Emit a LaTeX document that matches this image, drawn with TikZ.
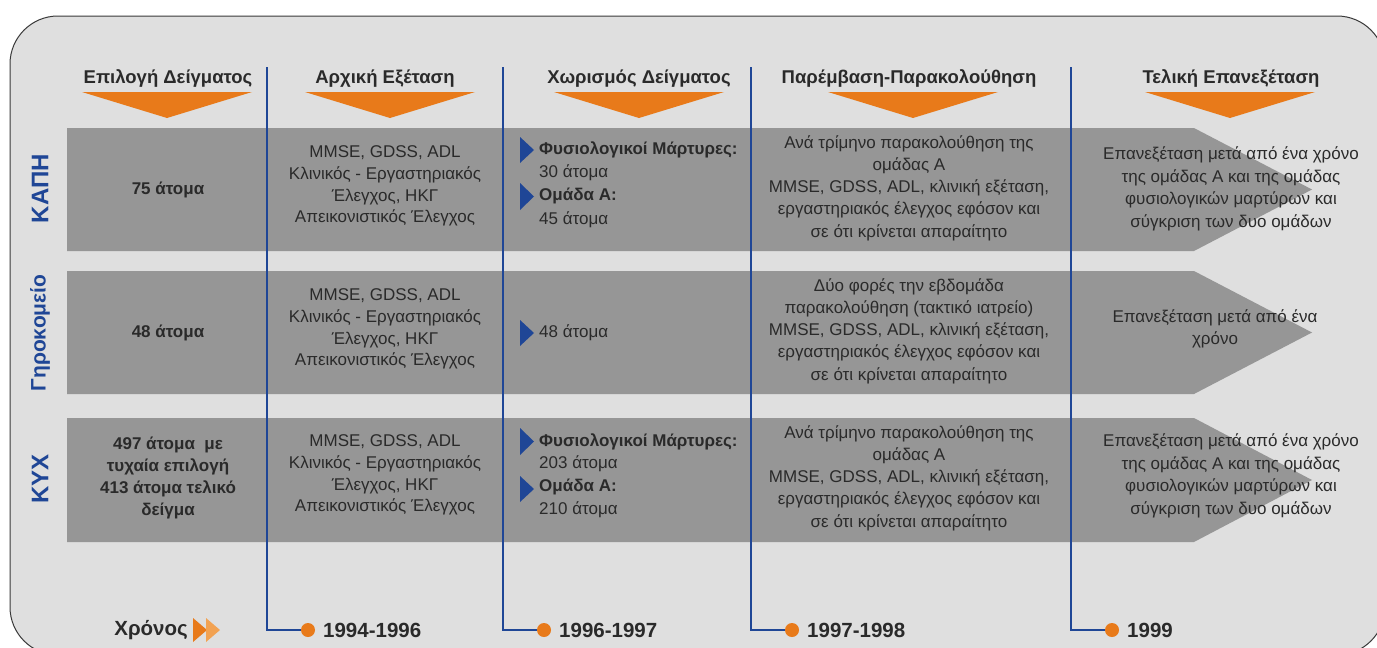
\documentclass[tikz,border=0pt]{standalone}
\usepackage{fontspec}
\setmainfont{Liberation Sans}
\definecolor{bgc}{HTML}{DFDFDF}
\definecolor{bandc}{HTML}{969696}
\definecolor{orangec}{HTML}{E87A1A}
\definecolor{orangel}{HTML}{F2A252}
\definecolor{bluec}{HTML}{1F4696}
\definecolor{txt}{HTML}{2A2A2A}
\definecolor{framec}{HTML}{3A3A3A}
\begin{document}
\begin{tikzpicture}[x=1pt,y=-1pt,
  hdr/.style={font=\fontsize{18.5}{22}\selectfont\bfseries, text=txt, anchor=base, inner sep=0pt},
  body/.style={font=\fontsize{17}{22.3}\selectfont, text=txt, align=center, inner sep=0pt},
  bbody/.style={font=\fontsize{17}{21.7}\selectfont\bfseries, text=txt, align=center, inner sep=0pt},
  lft/.style={font=\fontsize{17}{21}\selectfont, text=txt, anchor=west, inner sep=0pt},
  blft/.style={font=\fontsize{17}{21}\selectfont\bfseries, text=txt, anchor=west, inner sep=0pt},
  rowlab/.style={font=\fontsize{24}{26}\selectfont\bfseries, text=bluec, rotate=90, inner sep=0pt},
  year/.style={font=\fontsize{20.5}{24}\selectfont\bfseries, text=txt, anchor=west, inner sep=0pt},
  dot/.style={circle, fill=orangec, minimum size=14pt, inner sep=0pt},
  vline/.style={draw=bluec, line width=2pt},
  band/.style={fill=bandc},
  tri/.style={fill=orangec},
  bmark/.style={fill=bluec}
]
\useasboundingbox (0,0) rectangle (1377,648);
\clip (0,0) rectangle (1377,648);
\fill[white] (0,0) rectangle (1377,648);
\draw[draw=framec, fill=bgc, line width=1pt, rounded corners=48pt] (10,16) rectangle (1385,655);

% bands
\fill[band] (67,128) -- (1194,128) -- (1312,189.5) -- (1194,251) -- (67,251) -- cycle;
\fill[band] (67,271) -- (1194,271) -- (1312,332.5) -- (1194,394) -- (67,394) -- cycle;
\fill[band] (67,418) -- (1194,418) -- (1312,480) -- (1194,542) -- (67,542) -- cycle;

% orange header triangles
\foreach \cx in {167,390,639,913,1230}{
  \fill[tri] (\cx-85,92) -- (\cx+85,92) -- (\cx,118) -- cycle;
}

% headers
\node[hdr] (h1) at (168,83) {Επιλογή Δείγματος};
\node[hdr] (h2) at (385,83) {Αρχική Εξέταση};
\node[hdr] (h3) at (639,83) {Χωρισμός Δείγματος};
\node[hdr] (h4) at (909,83) {Παρέμβαση-Παρακολούθηση};
\node[hdr] (h5) at (1231,83) {Τελική Επανεξέταση};

% timeline
\coordinate (t1) at (267,67);
\coordinate (t2) at (503,67);
\coordinate (t3) at (751,67);
\coordinate (t4) at (1071,67);
\node[dot] (d1) at (308,630) {};
\node[dot] (d2) at (544,630) {};
\node[dot] (d3) at (792,630) {};
\node[dot] (d4) at (1112,630) {};
\draw[vline] (t1) |- (d1);
\draw[vline] (t2) |- (d2);
\draw[vline] (t3) |- (d3);
\draw[vline] (t4) |- (d4);
\node[year] (y1) at (323,630) {1994-1996};
\node[year] (y2) at (559,630) {1996-1997};
\node[year] (y3) at (807,630) {1997-1998};
\node[year] (y4) at (1127,630) {1999};
\node[year, anchor=east] (xr) at (188,630) {Χρόνος};
\fill[fill=orangec] (193,618) -- (207,630) -- (193,642) -- cycle;
\fill[fill=orangel] (206,618) -- (220,630) -- (206,642) -- cycle;

% row labels
\node[rowlab] (r1) at (40,188.5) {ΚΑΠΗ};
\node[rowlab, font=\fontsize{21}{24}\selectfont\bfseries] (r2) at (40,333) {Γηροκομείο};
\node[rowlab] (r3) at (40,479) {ΚΥΧ};

% column 1
\node[bbody] (c11) at (168,190) {75 άτομα};
\node[bbody] (c21) at (168,333) {48 άτομα};
\node[bbody] (c31) at (168,478) {497 άτομα\ \ με\\τυχαία επιλογή\\413 άτομα τελικό\\δείγμα};

% column 2
\node[body, font=\fontsize{17}{21.7}\selectfont] (c12) at (385,186) {MMSE, GDSS, ADL\\Κλινικός - Εργαστηριακός\\Έλεγχος, ΗΚΓ\\Απεικονιστικός Έλεγχος};
\node[body, font=\fontsize{17}{21.7}\selectfont] (c22) at (385,329) {MMSE, GDSS, ADL\\Κλινικός - Εργαστηριακός\\Έλεγχος, ΗΚΓ\\Απεικονιστικός Έλεγχος};
\node[body, font=\fontsize{17}{21.7}\selectfont] (c32) at (385,475) {MMSE, GDSS, ADL\\Κλινικός - Εργαστηριακός\\Έλεγχος, ΗΚΓ\\Απεικονιστικός Έλεγχος};

% column 3
\fill[bmark] (520,137) -- (534,150) -- (520,163) -- cycle;
\fill[bmark] (520,183) -- (534,196.5) -- (520,210) -- cycle;
\node[blft] (c13a) at (539,150) {Φυσιολογικοί Μάρτυρες:};
\node[lft] (c13b) at (539,173) {30 άτομα};
\node[blft] (c13c) at (539,196) {Ομάδα Α:};
\node[lft] (c13d) at (539,220) {45 άτομα};

\fill[bmark] (520,320) -- (534,333) -- (520,346) -- cycle;
\node[lft] (c23) at (539,333) {48 άτομα};

\fill[bmark] (520,428) -- (534,441.5) -- (520,455) -- cycle;
\fill[bmark] (520,476) -- (534,489) -- (520,502) -- cycle;
\node[blft] (c33a) at (539,442) {Φυσιολογικοί Μάρτυρες:};
\node[lft] (c33b) at (539,464) {203 άτομα};
\node[blft] (c33c) at (539,487) {Ομάδα Α:};
\node[lft] (c33d) at (539,510) {210 άτομα};

% column 4
\node[body] (c14) at (909,188) {Ανά τρίμηνο παρακολούθηση της\\ομάδας Α\\MMSE, GDSS, ADL, κλινική εξέταση,\\εργαστηριακός έλεγχος εφόσον και\\σε ότι κρίνεται απαραίτητο};
\node[body] (c24) at (909,331) {Δύο φορές την εβδομάδα\\παρακολούθηση (τακτικό ιατρείο)\\MMSE, GDSS, ADL, κλινική εξέταση,\\εργαστηριακός έλεγχος εφόσον και\\σε ότι κρίνεται απαραίτητο};
\node[body] (c34) at (909,478) {Ανά τρίμηνο παρακολούθηση της\\ομάδας Α\\MMSE, GDSS, ADL, κλινική εξέταση,\\εργαστηριακός έλεγχος εφόσον και\\σε ότι κρίνεται απαραίτητο};

% column 5
\node[body, font=\fontsize{17}{22.7}\selectfont] (c15) at (1231,189) {Επανεξέταση μετά από ένα χρόνο\\της ομάδας Α και της ομάδας\\φυσιολογικών μαρτύρων και\\σύγκριση των δυο ομάδων};
\node[body, font=\fontsize{17}{22.7}\selectfont] (c25) at (1215,329) {Επανεξέταση μετά από ένα\\χρόνο};
\node[body, font=\fontsize{17}{22.7}\selectfont] (c35) at (1231,476) {Επανεξέταση μετά από ένα χρόνο\\της ομάδας Α και της ομάδας\\φυσιολογικών μαρτύρων και\\σύγκριση των δυο ομάδων};
\end{tikzpicture}
\end{document}
